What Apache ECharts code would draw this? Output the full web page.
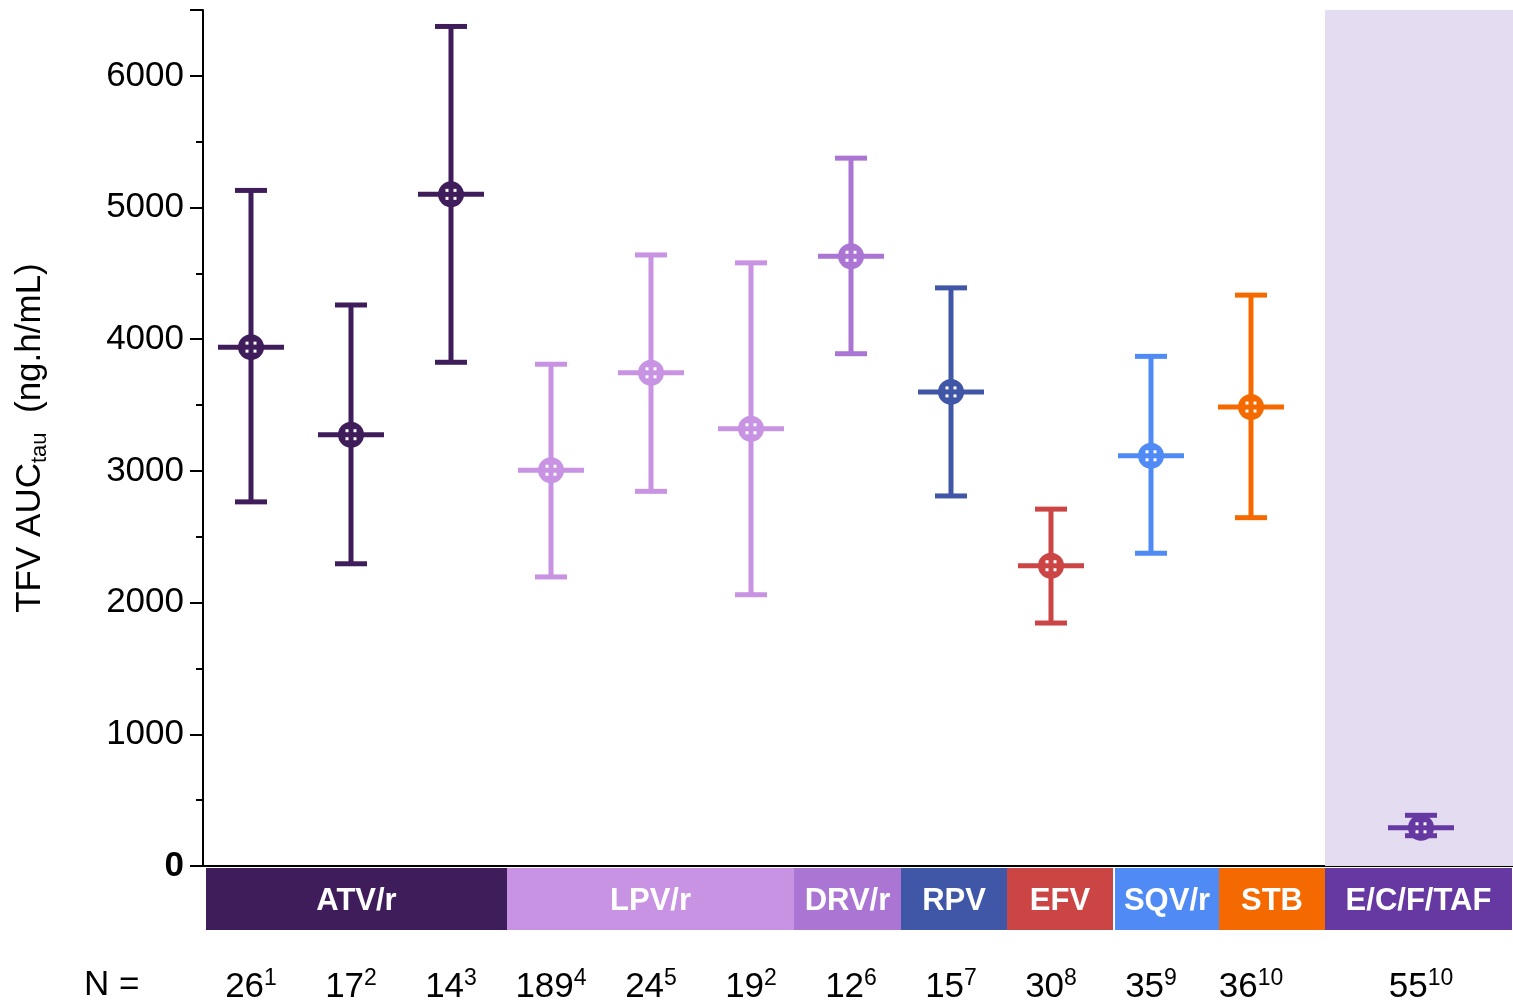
<!DOCTYPE html>
<html>
<head>
<meta charset="utf-8">
<script src="https://cdn.jsdelivr.net/npm/echarts@6/dist/echarts.min.js"></script>
<style>html,body{margin:0;padding:0;background:#fff}#c{width:1513px;height:1006px}</style>
</head>
<body>
<div id="c"></div>
<script>
// ---- data ----
const groupNames = ['ATV/r', 'LPV/r', 'DRV/r', 'RPV', 'EFV', 'SQV/r', 'STB', 'E/C/F/TAF'];
const groupColors = ['#3f1d5a', '#c893e3', '#ab75d4', '#3f57a6', '#cc4545', '#4f8af5', '#f46a00', '#6638a2'];
const bandStart = [0.55, 3.56, 6.43, 7.5, 8.56, 9.64, 10.68, 11.74];
const bandEnd   = [3.56, 6.43, 7.5, 8.56, 9.62, 10.68, 11.74, 13.61];
const pointGroup = [0, 0, 0, 1, 1, 1, 2, 3, 4, 5, 6, 7];
const pointX     = [1, 2, 3, 4, 5, 6, 7, 8, 9, 10, 11, 12.7];
const meanVals  = [3940, 3275, 5100, 3005, 3745, 3320, 4630, 3600, 2280, 3115, 3485, 290];
const upperVals = [5130, 4260, 6375, 3810, 4640, 4580, 5375, 4390, 2710, 3870, 4335, 385];
const lowerVals = [2765, 2295, 3825, 2195, 2845, 2060, 3890, 2810, 1845, 2375, 2645, 230];
const nVals = ['26', '17', '14', '189', '24', '19', '12', '15', '30', '35', '36', '55'];
const nRefs = ['1', '2', '3', '4', '5', '2', '6', '7', '8', '9', '10', '10'];
const shadeRange = [11.74, 13.62];
const yMin = 0, yMax = 6500, yStep = 1000;

const FONT = '"Liberation Sans", Arial, sans-serif';
const FS = 35;
const xMin = 0.52, xMax = 13.62;

const chart = echarts.init(document.getElementById('c'));

const points = pointX.map((x, i) => [x, meanVals[i], lowerVals[i], upperVals[i], pointGroup[i]]);
const bands = groupNames.map((g, i) => [bandStart[i], bandEnd[i], i]);

function renderPoint(params, api) {
  const x = api.value(0), m = api.value(1), lo = api.value(2), hi = api.value(3);
  const col = groupColors[api.value(4)];
  const pm = api.coord([x, m]), pl = api.coord([x, lo]), ph = api.coord([x, hi]);
  const lw = 5, cap = 16, half = 33, r = 13;
  const st = { stroke: col, lineWidth: lw, fill: null };
  const d = 4, s = 3;
  const dots = [[-d, -d], [d, -d], [-d, d], [d, d]].map(o => ({
    type: 'rect', shape: { x: pm[0] + o[0] - s / 2, y: pm[1] + o[1] - s / 2, width: s, height: s },
    style: { fill: '#fff' }
  }));
  return {
    type: 'group',
    children: [
      { type: 'line', shape: { x1: pl[0], y1: pl[1], x2: ph[0], y2: ph[1] }, style: st },
      { type: 'line', shape: { x1: ph[0] - cap, y1: ph[1], x2: ph[0] + cap, y2: ph[1] }, style: st },
      { type: 'line', shape: { x1: pl[0] - cap, y1: pl[1], x2: pl[0] + cap, y2: pl[1] }, style: st },
      { type: 'line', shape: { x1: pm[0] - half, y1: pm[1], x2: pm[0] + half, y2: pm[1] }, style: st },
      { type: 'circle', shape: { cx: pm[0], cy: pm[1], r: r }, style: { fill: col } }
    ].concat(dots)
  };
}

function renderBand(params, api) {
  const a = api.value(0), b = api.value(1), gi = api.value(2);
  const p0 = api.coord([a, 1]), p1 = api.coord([b, 0]);
  return {
    type: 'group',
    children: [
      { type: 'rect', shape: { x: p0[0], y: p0[1], width: p1[0] - p0[0], height: p1[1] - p0[1] },
        style: { fill: groupColors[gi] } },
      { type: 'text', x: (p0[0] + p1[0]) / 2, y: (p0[1] + p1[1]) / 2 + 2,
        style: { text: groupNames[gi], fill: '#fff', font: 'bold 31px ' + FONT, align: 'center', verticalAlign: 'middle' } }
    ]
  };
}

function renderShade(params, api) {
  const p0 = api.coord([api.value(0), yMax]), p1 = api.coord([api.value(1), yMin]);
  return { type: 'rect', shape: { x: p0[0], y: p0[1], width: p1[0] - p0[0], height: p1[1] - p0[1] },
    style: { fill: '#e4dcf0' } };
}

const option = {
  animation: false,
  backgroundColor: '#fff',
  grid: [
    { left: 203, right: 0, top: 10, bottom: 140, containLabel: false, outerBoundsMode: 'none' },
    { left: 203, right: 0, top: 868, height: 62, containLabel: false, outerBoundsMode: 'none' }
  ],
  xAxis: [
    {
      type: 'value', gridIndex: 0, min: xMin, max: xMax,
      splitLine: { show: false },
      axisLine: { show: true, lineStyle: { color: '#000', width: 2 } },
      axisTick: { show: false },
      axisLabel: {
        show: true, customValues: pointX, margin: 101,
        formatter: function (v) {
          const i = pointX.findIndex(p => Math.abs(p - v) < 1e-6);
          if (i < 0) return '';
          return '{n|' + nVals[i] + '}{s|' + nRefs[i] + '}';
        },
        rich: {
          n: { fontSize: FS, fontFamily: FONT, color: '#000', lineHeight: 38, verticalAlign: 'bottom' },
          s: { fontSize: 23, fontFamily: FONT, color: '#000', verticalAlign: 'top', lineHeight: 38 }
        }
      }
    },
    { type: 'value', gridIndex: 1, min: xMin, max: xMax, show: false }
  ],
  yAxis: [
    {
      type: 'value', gridIndex: 0, min: yMin, max: yMax, interval: yStep,
      splitLine: { show: false },
      axisLine: { show: true, lineStyle: { color: '#000', width: 2 } },
      axisTick: { show: true, length: 13, lineStyle: { color: '#000', width: 2 } },
      minorTick: { show: true, splitNumber: 2, length: 7, lineStyle: { color: '#000', width: 2 } },
      axisLabel: {
        margin: 19, showMaxLabel: false,
        formatter: function (v) { return v === 0 ? '{b|0}' : (v % yStep === 0 ? '{a|' + v + '}' : ''); },
        rich: {
          a: { fontSize: FS, fontFamily: FONT, color: '#000' },
          b: { fontSize: FS, fontFamily: FONT, color: '#000', fontWeight: 'bold' }
        }
      },
      name: '{a|TFV AUC}{b|tau}{a|  (ng.h/mL)}',
      nameLocation: 'middle', nameRotate: 90, nameGap: 152,
      nameTextStyle: {
        rich: {
          a: { fontSize: FS, fontFamily: FONT, color: '#000', lineHeight: 42, verticalAlign: 'middle' },
          b: { fontSize: 22, fontFamily: FONT, color: '#000', lineHeight: 42, verticalAlign: 'bottom' }
        }
      }
    },
    { type: 'value', gridIndex: 1, min: 0, max: 1, show: false }
  ],
  graphic: [
    { type: 'text', left: 84, top: 968, style: { text: 'N =', font: FS + 'px ' + FONT, fill: '#000' } }
  ],
  series: [
    { type: 'custom', xAxisIndex: 0, yAxisIndex: 0, z: 1, renderItem: renderShade, data: [shadeRange], silent: true },
    { type: 'custom', xAxisIndex: 0, yAxisIndex: 0, z: 5, renderItem: renderPoint, data: points, clip: false },
    { type: 'custom', xAxisIndex: 1, yAxisIndex: 1, z: 3, renderItem: renderBand, data: bands }
  ]
};
chart.setOption(option);
</script>
</body>
</html>
